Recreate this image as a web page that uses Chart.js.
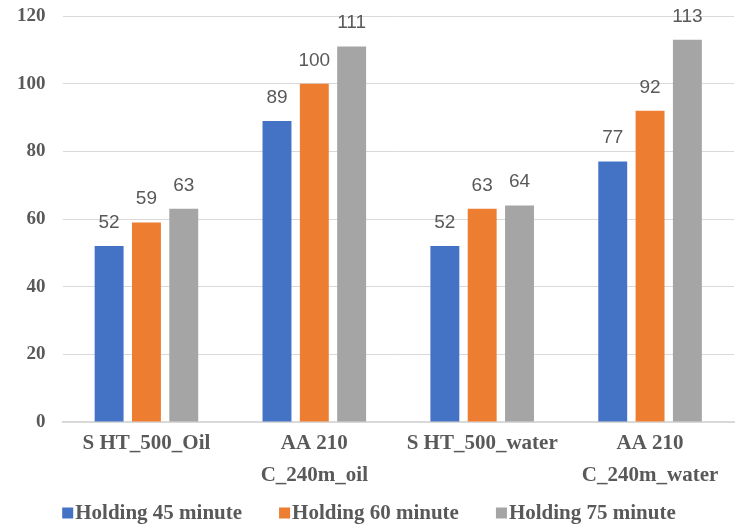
<!DOCTYPE html>
<html>
<head>
<meta charset="utf-8">
<script src="https://cdn.jsdelivr.net/npm/chart.js@4.4.1/dist/chart.umd.min.js"></script>
<style>
  html, body { margin: 0; padding: 0; background: #ffffff; }
  #wrap { width: 744px; height: 527px; position: relative; }
</style>
</head>
<body>
<div id="wrap"><canvas id="c"></canvas></div>
<script>
const categories = [
  ['S HT_500_Oil'],
  ['AA 210', 'C_240m_oil'],
  ['S HT_500_water'],
  ['AA 210', 'C_240m_water']
];
const seriesNames = ['Holding 45 minute', 'Holding 60 minute', 'Holding 75 minute'];
const hold45 = [52, 89, 52, 77];
const hold60 = [59, 100, 63, 92];
const hold75 = [63, 111, 64, 113];
const yTicks = [0, 20, 40, 60, 80, 100, 120];
const colors = ['#4472c4', '#ed7d31', '#a5a5a5'];

const serif = '"Liberation Serif", "Times New Roman", serif';

// draws each bar's value just above its top
const valueLabels = {
  id: 'valueLabels',
  afterDatasetsDraw(chart) {
    const ctx = chart.ctx;
    ctx.save();
    ctx.font = '19px "Liberation Sans", Arial, sans-serif';
    ctx.fillStyle = '#595959';
    ctx.textAlign = 'center';
    ctx.textBaseline = 'alphabetic';
    chart.data.datasets.forEach((ds, i) => {
      chart.getDatasetMeta(i).data.forEach((bar, j) => {
        ctx.fillText(String(ds.data[j]), bar.x, bar.y - 18);
      });
    });
    ctx.restore();
  }
};

// bottom legend: small square swatch, tight gap to the text, wide gap between items
const bottomLegend = {
  id: 'bottomLegend',
  afterDraw(chart) {
    const ctx = chart.ctx;
    const box = 11, gap = 2, itemGap = 37;
    const y = chart.height - 14;
    ctx.save();
    ctx.font = 'bold 21px ' + serif;
    ctx.textBaseline = 'middle';
    ctx.textAlign = 'left';
    const items = chart.data.datasets.map(ds => ({
      text: ds.label, color: ds.backgroundColor, w: ctx.measureText(ds.label).width
    }));
    const total = items.reduce((s, it) => s + box + gap + it.w, 0) + itemGap * (items.length - 1);
    let x = (chart.width - total) / 2 - 3;
    items.forEach(it => {
      ctx.fillStyle = it.color;
      ctx.fillRect(x, y - box / 2, box, box);
      ctx.fillStyle = '#595959';
      ctx.fillText(it.text, x + box + gap, y + 1);
      x += box + gap + it.w + itemGap;
    });
    ctx.restore();
  }
};

new Chart(document.getElementById('c'), {
  type: 'bar',
  data: {
    labels: categories,
    datasets: [hold45, hold60, hold75].map((d, i) => ({
      label: seriesNames[i],
      data: d,
      backgroundColor: colors[i],
      borderWidth: 0,
      categoryPercentage: 0.667,
      barPercentage: 0.775
    }))
  },
  options: {
    responsive: true,
    maintainAspectRatio: false,
    animation: false,
    layout: { padding: { top: 16, right: 10, bottom: 30, left: 0 } },
    plugins: {
      legend: { display: false },
      tooltip: { enabled: false }
    },
    scales: {
      x: {
        grid: { display: false, drawTicks: false },
        border: { color: '#d9d9d9', width: 2 },
        ticks: {
          font: { family: serif, size: 21, weight: 'bold', lineHeight: 1.5 },
          color: '#595959',
          padding: 6,
          maxRotation: 0,
          autoSkip: false
        }
      },
      y: {
        min: 0,
        max: 120,
        afterBuildTicks(axis) { axis.ticks = yTicks.map(v => ({ value: v })); },
        afterFit(axis) { axis.paddingTop = 0; axis.paddingBottom = 0; },
        grid: { color: '#d9d9d9', lineWidth: 1, drawTicks: false },
        border: { display: false },
        ticks: {
          font: { family: serif, size: 19, weight: 'bold' },
          color: '#595959',
          padding: 17
        }
      }
    }
  },
  plugins: [valueLabels, bottomLegend]
});
</script>
</body>
</html>
